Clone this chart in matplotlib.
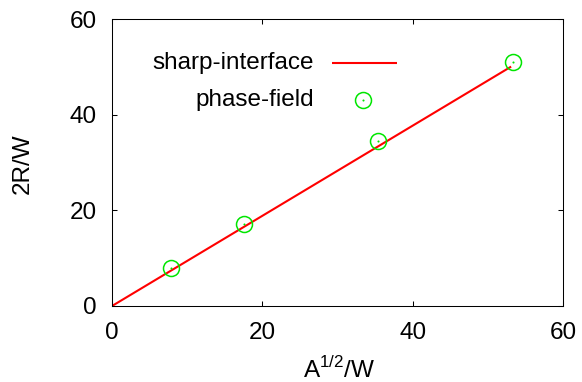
import matplotlib
matplotlib.use("Agg")
import numpy as np
import matplotlib.pyplot as plt

plt.rcParams['font.family'] = ['Liberation Sans', 'DejaVu Sans']
plt.rcParams['mathtext.fontset'] = 'custom'
plt.rcParams['mathtext.rm'] = 'Liberation Sans'

# phase-field results
pf_x = [7.9, 17.6, 35.4, 53.3]
pf_y = [7.9, 17.15, 34.5, 51.0]

# sharp-interface prediction (straight line)
si_x = [0.0, 53.1]
si_y = [0.0, 50.1]

x_ticks = [0, 20, 40, 60]
y_ticks = [0, 20, 40, 60]

RED = '#ff0000'
GREEN = '#00e600'
FS = 17.5

fig = plt.figure(figsize=(5.82, 3.82), dpi=100)
ax = fig.add_axes([112 / 582, 1 - 306 / 382, 451 / 582, 286.7 / 382])

ax.plot(si_x, si_y, color=RED, lw=1.5, solid_capstyle='butt')
ax.plot(pf_x, pf_y, ls='none', marker='o', ms=11.5, mfc='none', mec=GREEN, mew=1.1)
ax.plot(pf_x, pf_y, ls='none', marker='o', ms=1.5, mfc=GREEN, mec=GREEN, mew=0)

ax.set_xlim(0, 60)
ax.set_ylim(0, 60)
ax.set_xticks(x_ticks)
ax.set_yticks(y_ticks)
ax.tick_params(direction='in', length=3.4, width=0.75, top=True, right=True,
               labelsize=FS, pad=11)
ax.tick_params(axis='x', pad=11.5)
for s in ax.spines.values():
    s.set_linewidth(0.75)

# legend drawn by hand (gnuplot style: text right-aligned, sample on the right)
tr = ax.transAxes
ax.text(0.448, 0.8486, 'sharp-interface', transform=tr, ha='right', va='center', fontsize=FS)
ax.plot([0.487, 0.631], [0.8486, 0.8486], transform=tr, color=RED, lw=1.5,
        solid_capstyle='butt', clip_on=False)
ax.text(0.448, 0.7185, 'phase-field', transform=tr, ha='right', va='center', fontsize=FS)
ax.plot([0.5565], [0.7185], transform=tr, ls='none', marker='o', ms=11.5, mfc='none',
        mec=GREEN, mew=1.1)
ax.plot([0.5565], [0.7185], transform=tr, ls='none', marker='o', ms=1.5, mfc=GREEN,
        mec=GREEN, mew=0)

fig.text(23 / 582, 1 - 164 / 382, '2R/W', rotation=90, ha='center', va='center', fontsize=FS)
fig.text(339.5 / 582, 1 - 378 / 382, r'A$^{\mathregular{1/2}}$/W', ha='center',
         va='baseline', fontsize=FS)

fig.savefig('out.png', dpi=100)
